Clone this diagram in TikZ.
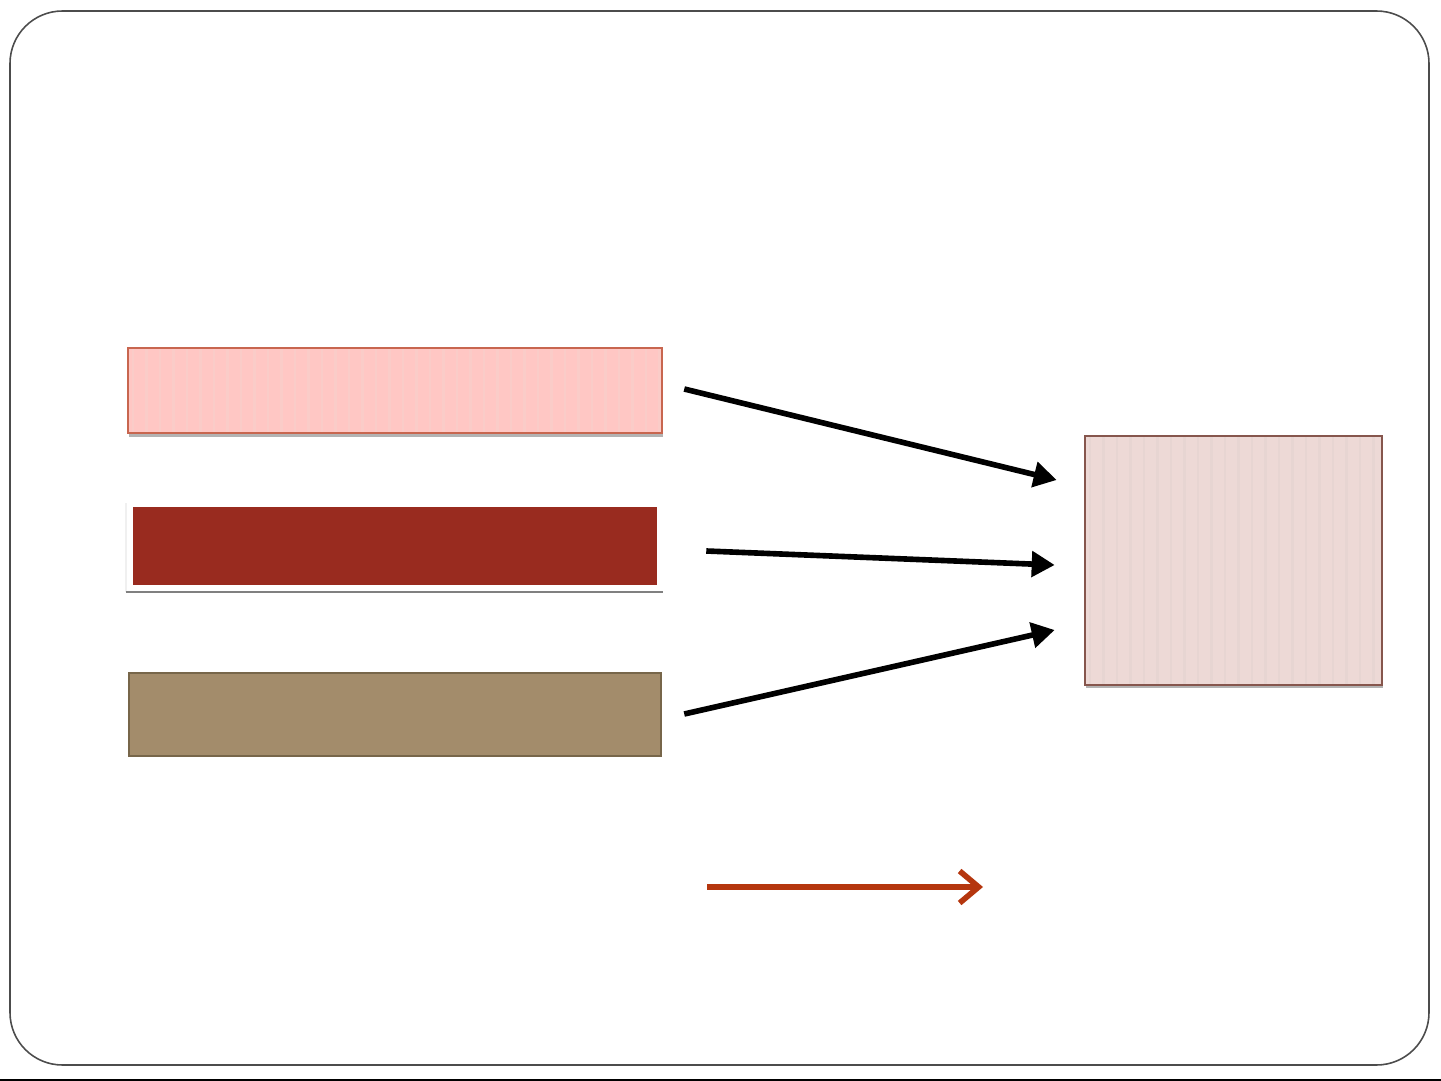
\documentclass[tikz,border=0pt]{standalone}
\usepackage{xcolor}
\usetikzlibrary{arrows.meta, calc, positioning, shadows}
\definecolor{pinkfill}{HTML}{FFC7C4}
\definecolor{pinkline}{HTML}{C8664F}
\definecolor{rustfill}{HTML}{992B1F}
\definecolor{sandfill}{HTML}{A38C6B}
\definecolor{sandline}{HTML}{77664A}
\definecolor{rosefill}{HTML}{EDD9D6}
\definecolor{roseline}{HTML}{86564D}
\definecolor{trendred}{HTML}{B5360E}
\tikzset{
  block/.style={rectangle, draw, line width=1.5pt, inner sep=0pt},
  shade/.style={drop shadow={shadow xshift=0.6pt, shadow yshift=-2pt, opacity=0.6}},
  stripes/.style={path picture={
    \foreach \s in {0,...,45}
      \draw[#1, line width=1.6pt, opacity=0.3]
        ([xshift=\s*0.27cm+0.1cm]path picture bounding box.south west) --
        ([xshift=\s*0.27cm+0.1cm]path picture bounding box.north west);}},
  link/.style={-{Triangle[length=0.46cm,width=0.5cm]}, line width=3.2pt}
}

\begin{document}
\begin{tikzpicture}[
    x=0.02cm, y=-0.02cm,
    trend/.style={-{Straight Barb[length=0.38cm,width=0.64cm,line width=3.2pt]}, line width=3.2pt, draw=trendred},
]
\useasboundingbox (0,0) rectangle (1441,1081);

% slide frame
\draw[gray!60!black, line width=0.9pt, rounded corners=1.05cm] (10,11) rectangle (1429,1065);
\draw[black, line width=0.6pt] (0,1080) -- (1441,1080);

% left blocks
\node[block, shade, draw=pinkline, fill=pinkfill, stripes=pinkline!25,
      minimum width=10.68cm, minimum height=1.7cm] (pinkbar) at (395,390.5) {};
\draw[gray!12, line width=1pt] (126,503) -- (126,592);
\draw[gray, line width=1.4pt] (126,592) -- (663,592);
\node[block, draw=none, fill=rustfill,
      minimum width=10.48cm, minimum height=1.56cm] (rustbar) at (395,546) {};
\node[block, draw=sandline, fill=sandfill,
      minimum width=10.64cm, minimum height=1.66cm] (sandbar) at (395,714.5) {};

% right block
\node[block, shade, draw=roseline, fill=rosefill, stripes=roseline!30,
      minimum width=5.94cm, minimum height=4.98cm] (result) at (1233.5,560.5) {};

% arrow ends
\coordinate (in1) at ([shift={(-27,-80.5)}]result.west);
\coordinate (in2) at ([shift={(-29,4.5)}]result.west);
\coordinate (in3) at ([shift={(-29,69.5)}]result.west);

% links
\draw[link] ([shift={(21,-1.5)}]pinkbar.east) -- (in1);
\draw[link] ([shift={(48,5)}]rustbar.east) -- (in2);
\draw[link] ([shift={(22,-0.5)}]sandbar.east) -- (in3);

% trend arrow
\coordinate (t0) at (707,887);
\coordinate (t1) at (983,887);
\draw[trend] (t0) -- (t1);

\end{tikzpicture}
\end{document}
